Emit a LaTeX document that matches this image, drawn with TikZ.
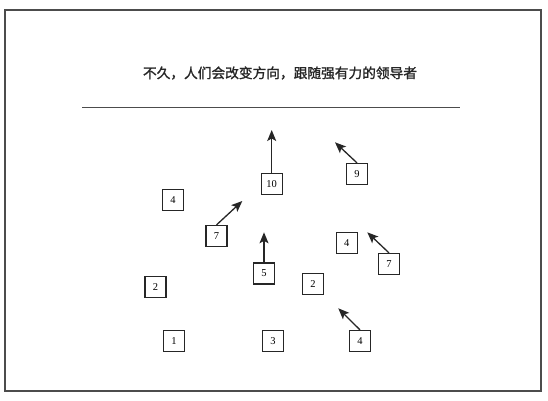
\documentclass[tikz,border=0pt]{standalone}
\usepackage{fontspec}
\setmainfont{Liberation Serif}
\newfontfamily\cjk[FakeBold=1.5]{Noto Sans CJK SC}
\usetikzlibrary{arrows.meta}
\begin{document}
\begin{tikzpicture}[x=1pt,y=-1pt,
  numbox/.style={draw=black!85,line width=1.2pt,minimum width=21pt,minimum height=21pt,inner sep=0pt,font=\fontsize{10.5}{12}\selectfont},
  moveline/.style={draw=black!85,line width=1.3pt,-{Stealth[length=11pt,width=9pt,inset=2.5pt]}},
  frameline/.style={draw=black!70,line width=1.5pt}]
\useasboundingbox (0,0) rectangle (548,400);
\draw[frameline] (5,10) rectangle (541,391);
\node[font=\cjk\fontsize{13.7}{15}\selectfont,inner sep=0pt,text=black!85] (title) at (280,73) {不久，人们会改变方向，跟随强有力的领导者};
\coordinate (hl) at (82,107.5);
\coordinate (hr) at (460,107.5);
\draw[frameline] (hl) -- (hr);

\node[numbox] (b10) at (271.7,184) {10};
\node[numbox] (b9) at (357,174) {9};
\node[numbox] (b4a) at (173,200) {4};
\node[numbox] (b7a) at (216.5,236) {7};
\node[numbox] (b5) at (264,273.5) {5};
\node[numbox] (b4b) at (346.7,243) {4};
\node[numbox] (b7b) at (389,264) {7};
\node[numbox] (b2a) at (155.5,286.7) {2};
\node[numbox] (b2b) at (313,283.7) {2};
\node[numbox] (b1) at (174,341) {1};
\node[numbox] (b3) at (273,341) {3};
\node[numbox] (b4c) at (360,341) {4};

\coordinate (t10) at (271.7,130);
\coordinate (t9) at (335,142.3);
\coordinate (t7a) at (242.3,201);
\coordinate (t5) at (264,232.3);
\coordinate (t7b) at (367.3,232.3);
\coordinate (t4c) at (338.3,308.3);

\draw[moveline] (b10.north) -- (t10);
\draw[moveline] (b9.north) -- (t9);
\draw[moveline] (b7a.north) -- (t7a);
\draw[moveline] (b5.north) -- (t5);
\draw[moveline] (b7b.north) -- (t7b);
\draw[moveline] (b4c.north) -- (t4c);
\end{tikzpicture}
\end{document}
